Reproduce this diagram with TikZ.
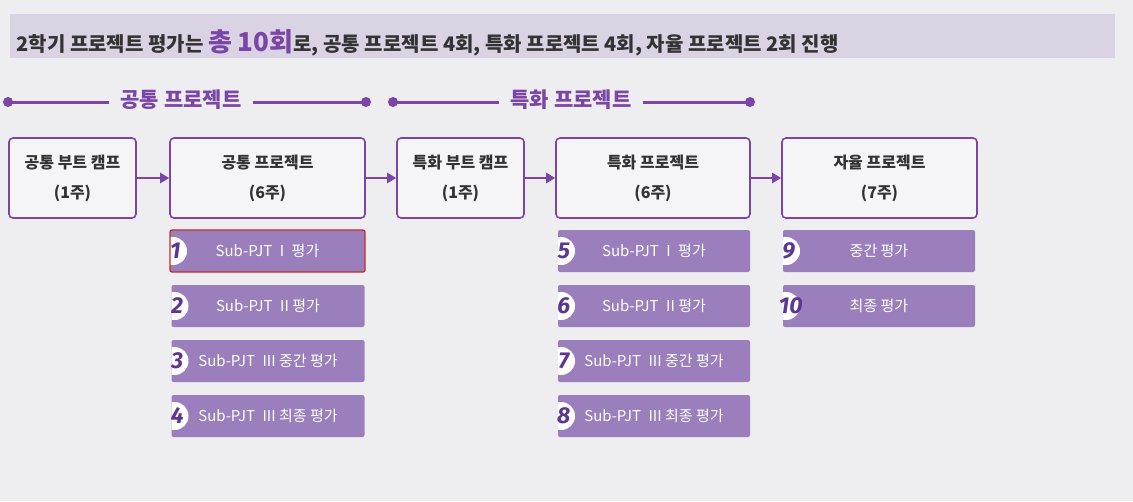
\documentclass[tikz,border=0pt]{standalone}
\usepackage{fontspec}
\setmainfont{Noto Sans CJK KR}
\newfontfamily\numfont{Fira Sans}
\usetikzlibrary{arrows.meta}

\definecolor{bgcol}{HTML}{EEEDF0}
\definecolor{bandcol}{HTML}{DAD3E4}
\definecolor{pjpurple}{HTML}{7B45A8}
\definecolor{barcol}{HTML}{9B7FBC}
\definecolor{numcol}{HTML}{5B3790}
\definecolor{txtdark}{HTML}{333333}
\definecolor{redline}{HTML}{C42B2B}

\tikzset{
  stagebox/.style={draw=pjpurple, line width=1.6pt, rounded corners=4pt, fill=bgcol!60!white,
    minimum height=80pt, align=center, text=txtdark, font=\fontsize{16}{30}\selectfont\bfseries},
  evalbar/.style={fill=barcol, rounded corners=2pt, minimum height=42pt, text=white,
    font=\fontsize{15}{16}\selectfont,
    path picture={\fill[white] ([xshift=3pt]path picture bounding box.west) circle (14pt);}},
  evalnum/.style={text=numcol, font=\numfont\fontsize{23}{23}\selectfont\bfseries\itshape, inner sep=0pt},
  sectitle/.style={text=pjpurple, font=\fontsize{21}{21}\selectfont\bfseries, inner xsep=11pt},
  secline/.style={pjpurple, line width=3pt},
  flow/.style={-{Triangle[length=9pt,width=10pt]}, pjpurple, line width=2.5pt}
}

\begin{document}
\begin{tikzpicture}[x=1pt,y=-1pt]
  %배경
  \fill[bgcol] (0,0) rectangle (1133,501);
  \useasboundingbox (0,0) rectangle (1133,501);

  % 제목 띠
  \fill[bandcol] (10,14) rectangle (1115,58);
  \node[anchor=west, text=txtdark, font=\fontsize{20}{20}\selectfont\bfseries] (head) at (13,43)
    {2학기 프로젝트 평가는 {\color{pjpurple}\fontsize{26}{26}\selectfont 총 10회}로, 공통 프로젝트 4회, 특화 프로젝트 4회, 자율 프로젝트 2회 진행};

  % 구분 제목
  \coordinate (c1) at (8,102);
  \coordinate (c2) at (366,102);
  \node[sectitle] (s1) at (181,100) {공통 프로젝트};
  \draw[secline] (c1) -- (c1 -| s1.west);
  \draw[secline] (c2 -| s1.east) -- (c2);
  \fill[pjpurple] (c1) circle (5pt) (c2) circle (5pt);

  \coordinate (c3) at (393,102);
  \coordinate (c4) at (750,102);
  \node[sectitle] (s2) at (571,100) {특화 프로젝트};
  \draw[secline] (c3) -- (c3 -| s2.west);
  \draw[secline] (c4 -| s2.east) -- (c4);
  \fill[pjpurple] (c3) circle (5pt) (c4) circle (5pt);

  % 단계 상자
  \node[stagebox, minimum width=127pt] (boot1) at (72.5,178) {공통 부트 캠프\\(1주)};
  \node[stagebox, minimum width=195pt] (proj1) at (267.5,178) {공통 프로젝트\\(6주)};
  \node[stagebox, minimum width=127pt] (boot2) at (460.5,178) {특화 부트 캠프\\(1주)};
  \node[stagebox, minimum width=194pt] (proj2) at (653,178) {특화 프로젝트\\(6주)};
  \node[stagebox, minimum width=195pt] (proj3) at (879.5,178) {자율 프로젝트\\(7주)};

  % 화살표
  \draw[flow] (boot1) -- (proj1);
  \draw[flow] (proj1) -- (boot2);
  \draw[flow] (boot2) -- (proj2);
  \draw[flow] (proj2) -- (proj3);

  % 평가 항목
  \node[evalbar, minimum width=195pt, draw=redline, line width=1.3pt] (e1) at (267.5,251) {Sub-PJT\enspace I\enspace 평가};
  \node[evalbar, minimum width=193pt] (e2) at (268,306) {Sub-PJT\enspace II 평가};
  \node[evalbar, minimum width=193pt] (e3) at (268,361) {Sub-PJT\enspace III 중간 평가};
  \node[evalbar, minimum width=193pt] (e4) at (268,416) {Sub-PJT\enspace III 최종 평가};

  \node[evalbar, minimum width=192pt] (e5) at (654,251) {Sub-PJT\enspace I\enspace 평가};
  \node[evalbar, minimum width=192pt] (e6) at (654,306) {Sub-PJT\enspace II 평가};
  \node[evalbar, minimum width=192pt] (e7) at (654,361) {Sub-PJT\enspace III 중간 평가};
  \node[evalbar, minimum width=192pt] (e8) at (654,416) {Sub-PJT\enspace III 최종 평가};

  \node[evalbar, minimum width=192pt] (e9) at (879,251) {중간 평가};
  \node[evalbar, minimum width=192pt] (e10) at (879,306) {최종 평가};

  % 번호
  \node[evalnum] (n1) at ([xshift=6pt]e1.west) {1};
  \node[evalnum] (n2) at ([xshift=6pt]e2.west) {2};
  \node[evalnum] (n3) at ([xshift=6pt]e3.west) {3};
  \node[evalnum] (n4) at ([xshift=6pt]e4.west) {4};
  \node[evalnum] (n5) at ([xshift=6pt]e5.west) {5};
  \node[evalnum] (n6) at ([xshift=6pt]e6.west) {6};
  \node[evalnum] (n7) at ([xshift=6pt]e7.west) {7};
  \node[evalnum] (n8) at ([xshift=6pt]e8.west) {8};
  \node[evalnum] (n9) at ([xshift=6pt]e9.west) {9};
  \node[evalnum] (n10) at ([xshift=8pt]e10.west) {10};
\end{tikzpicture}
\end{document}
